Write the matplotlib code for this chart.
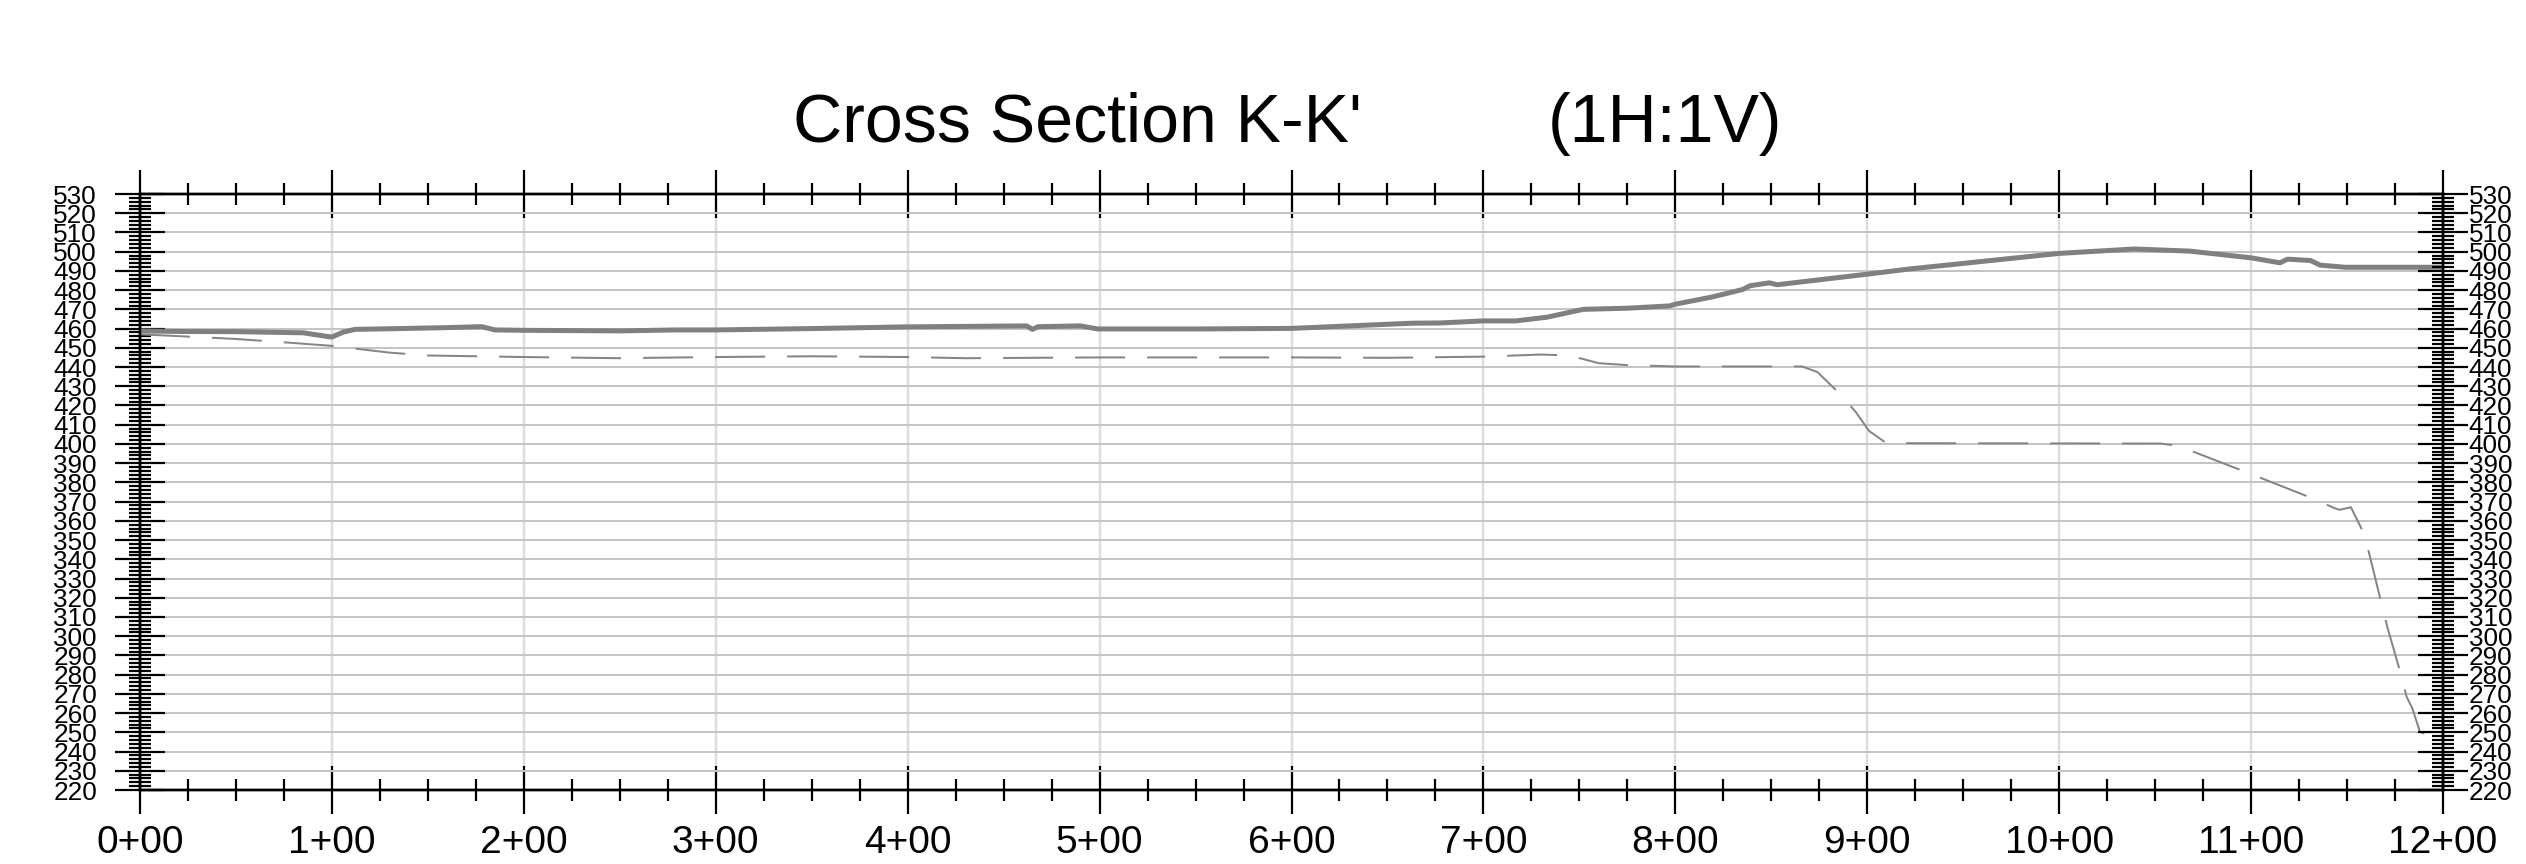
import matplotlib
matplotlib.use("Agg")
import matplotlib.pyplot as plt
from matplotlib.ticker import MultipleLocator

plt.rcParams['font.family'] = ['Liberation Sans', 'DejaVu Sans']

# ---- data (station in ft, elevation in ft) ----
ground_sta = [0, 20, 50, 85, 97, 100, 106, 112, 130, 160, 178, 185, 200, 250, 280,
              300, 350, 400, 462, 465, 468, 490, 499, 550, 600, 663, 677, 700, 717,
              733, 752, 775, 797, 800, 819, 835, 839, 849, 853, 900, 922, 1000,
              1039, 1068, 1100, 1115, 1119, 1131, 1136, 1149, 1200]
ground_elev = [458.8, 458.5, 458.4, 457.8, 456.0, 455.6, 458.2, 459.6, 459.9, 460.5,
               461.0, 459.3, 459.1, 458.8, 459.3, 459.3, 460.0, 460.9, 461.4, 459.6,
               461.0, 461.4, 459.8, 459.8, 460.1, 462.8, 462.9, 464.0, 464.0, 465.9,
               470.0, 470.6, 471.8, 472.7, 476.4, 480.3, 482.3, 483.8, 482.8, 488.3,
               491.0, 499.1, 501.4, 500.3, 496.8, 494.2, 496.1, 495.4, 493.0, 491.9,
               491.9]

design_sta = [0, 30, 50, 80, 100, 130, 150, 200, 250, 300, 350, 400, 430, 500, 600,
              650, 700, 730, 745, 760, 775, 800, 866, 874, 886, 894, 901, 910, 1053,
              1062, 1097, 1132, 1143, 1146, 1152, 1159, 1162, 1168, 1171, 1178, 1181,
              1184, 1188, 1200]
design_elev = [457.0, 455.6, 454.6, 452.5, 451.0, 447.5, 446.0, 445.2, 444.6, 445.2,
               445.6, 445.2, 444.6, 445.0, 445.0, 444.8, 445.4, 446.5, 446.0, 442.0,
               441.0, 440.3, 440.3, 437.4, 425.8, 416.6, 406.7, 400.4, 400.2, 399.0,
               385.5, 371.7, 366.8, 365.7, 367.1, 353.0, 341.1, 316.8, 304.7, 280.4,
               268.6, 262.5, 250.2, 245.9]

station_ticks = list(range(0, 1201, 100))
station_labels = [f"{s // 100}+00" for s in station_ticks]
elev_ticks = list(range(220, 531, 10))
elev_labels = [str(e) for e in elev_ticks]

title_left = "Cross Section K-K'"
title_right = "(1H:1V)"

# ---- figure ----
W, H = 2526, 864
fig = plt.figure(figsize=(W / 100, H / 100), dpi=100)
ax = fig.add_axes([140 / W, 1 - 790 / H, 2303 / W, 596 / H])

px = 0.72  # points per pixel at dpi 100

ax.plot(ground_sta, ground_elev, color='#808080', lw=5.0 * px, zorder=3,
        solid_joinstyle='round')
ax.plot(design_sta, design_elev, color='#858585', lw=2.0 * px, zorder=3,
        linestyle=(0, (25, 11)))

ax.set_xlim(0, 1200)
ax.set_ylim(220, 530)

ax.set_xticks(station_ticks)
ax.set_xticklabels(station_labels)
ax.xaxis.set_minor_locator(MultipleLocator(25))
ax.set_yticks(elev_ticks)
ax.set_yticklabels(elev_labels)
ax.yaxis.set_minor_locator(MultipleLocator(2))

ax.set_axisbelow(True)
ax.grid(axis='y', which='major', color='#c4c4c4', lw=2.0 * px)
ax.grid(axis='x', which='major', color='#dcdcdc', lw=2.4 * px)

for sp in ax.spines.values():
    sp.set_linewidth(2.4 * px)
    sp.set_color('black')

ax.tick_params(axis='x', which='major', direction='inout', length=48 * px,
               width=2.2 * px, top=True, bottom=True, labeltop=False,
               labelsize=28, pad=8, color='black')
ax.tick_params(axis='x', which='minor', direction='inout', length=22 * px,
               width=2.2 * px, top=True, bottom=True)
ax.tick_params(axis='y', which='major', direction='inout', length=50 * px,
               width=2.2 * px, left=True, right=False, labelleft=True,
               labelright=False, labelsize=18.8, pad=13)
ax.tick_params(axis='y', which='minor', direction='inout', length=21.5 * px,
               width=2.2 * px, left=True, right=False)

# right-hand elevation axis
ax2 = ax.twinx()
ax2.set_ylim(220, 530)
ax2.set_yticks(elev_ticks)
ax2.set_yticklabels(elev_labels)
ax2.yaxis.set_minor_locator(MultipleLocator(2))
for sp in ax2.spines.values():
    sp.set_linewidth(2.4 * px)
    sp.set_color('black')
ax2.tick_params(axis='y', which='major', direction='inout', length=50 * px,
                width=2.2 * px, left=False, right=True, labelleft=False,
                labelright=True, labelsize=18.8, pad=0.5)
ax2.tick_params(axis='y', which='minor', direction='inout', length=21.5 * px,
                width=2.2 * px, left=False, right=True)

fig.text(1077 / W, 1 - 142 / H, title_left, ha='center', va='baseline', fontsize=49)
fig.text(1665 / W, 1 - 142 / H, title_right, ha='center', va='baseline', fontsize=49)

fig.savefig("out.png", dpi=100)
